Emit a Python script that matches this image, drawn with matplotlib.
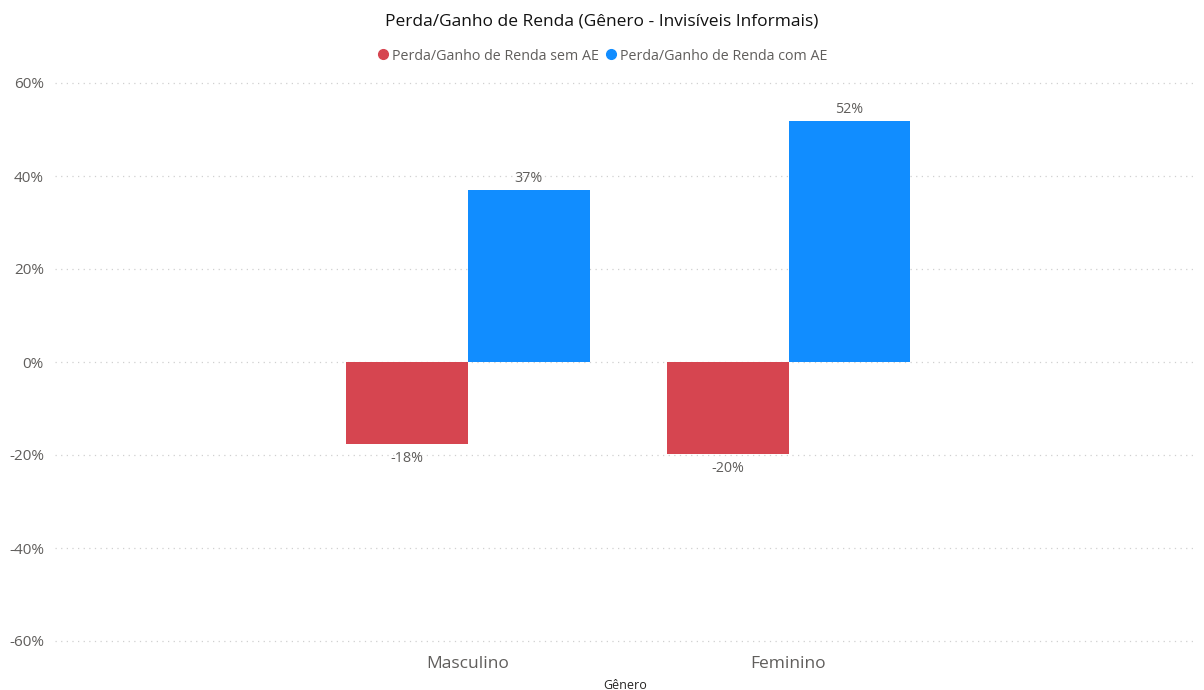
import numpy as np
import matplotlib.pyplot as plt
from matplotlib.lines import Line2D

plt.rcParams['font.family'] = ['Open Sans', 'DejaVu Sans']

categories = ['Masculino', 'Feminino']
sem_ae = [-18, -20]
com_ae = [37, 52]
sem_vals = [-17.6, -19.8]
com_vals = [37.0, 51.8]
series_names = ['Perda/Ganho de Renda sem AE', 'Perda/Ganho de Renda com AE']
yticks = [-60, -40, -20, 0, 20, 40, 60]

red = '#D64550'
blue = '#118DFF'
grey = '#605E5C'

fig = plt.figure(figsize=(12.04, 6.90), dpi=100)
ax = fig.add_axes([55 / 1204, 49 / 690, (1196 - 55) / 1204, (641 - 83) / 690])

x = np.arange(len(categories))
w = 0.38
ax.bar(x - w / 2, sem_vals, width=w, color=red)
ax.bar(x + w / 2, com_vals, width=w, color=blue)

# data labels: below negative bars, above positive ones
for xi, v, lab in zip(x, sem_vals, sem_ae):
    ax.annotate(f'{lab}%', (xi - w / 2, v), xytext=(0, -5), textcoords='offset points',
                ha='center', va='top', fontsize=10.3, color=grey)
for xi, v, lab in zip(x, com_vals, com_ae):
    ax.annotate(f'{lab}%', (xi + w / 2, v), xytext=(0, 3), textcoords='offset points',
                ha='center', va='bottom', fontsize=10.3, color=grey)

ax.set_xlim(-1.286, 2.27)
ax.set_ylim(-60, 60)
ax.set_yticks(yticks)
ax.set_yticklabels([f'{t}%' for t in yticks])
ax.set_xticks(x)
ax.set_xticklabels(categories)
ax.tick_params(axis='y', length=0, pad=8, labelsize=11, labelcolor=grey)
ax.tick_params(axis='x', length=0, pad=11, labelsize=12.5, labelcolor=grey)
for s in ax.spines.values():
    s.set_visible(False)
ax.grid(axis='y', linestyle=(0, (1, 3.5)), color='#D0D0D0', linewidth=0.9)
ax.set_axisbelow(True)
for gl in ax.get_ygridlines():
    gl.set_clip_on(False)

ax.set_xlabel('Gênero', fontsize=9, color='#252423', labelpad=5)

fig.text(0.5, 1 - 22 / 690, 'Perda/Ganho de Renda (Gênero - Invisíveis Informais)',
         ha='center', va='center', fontsize=12.5, color='#111111')

handles = [Line2D([], [], marker='o', linestyle='', color=red, markersize=7),
           Line2D([], [], marker='o', linestyle='', color=blue, markersize=7)]
leg = fig.legend(handles, series_names, loc='center', bbox_to_anchor=(0.5, 1 - 56 / 690),
                 ncol=2, frameon=False, fontsize=10.3, handletextpad=0.15, columnspacing=0.4,
                 handlelength=0.9)
for t in leg.get_texts():
    t.set_color(grey)

fig.savefig('out.png', dpi=100)
